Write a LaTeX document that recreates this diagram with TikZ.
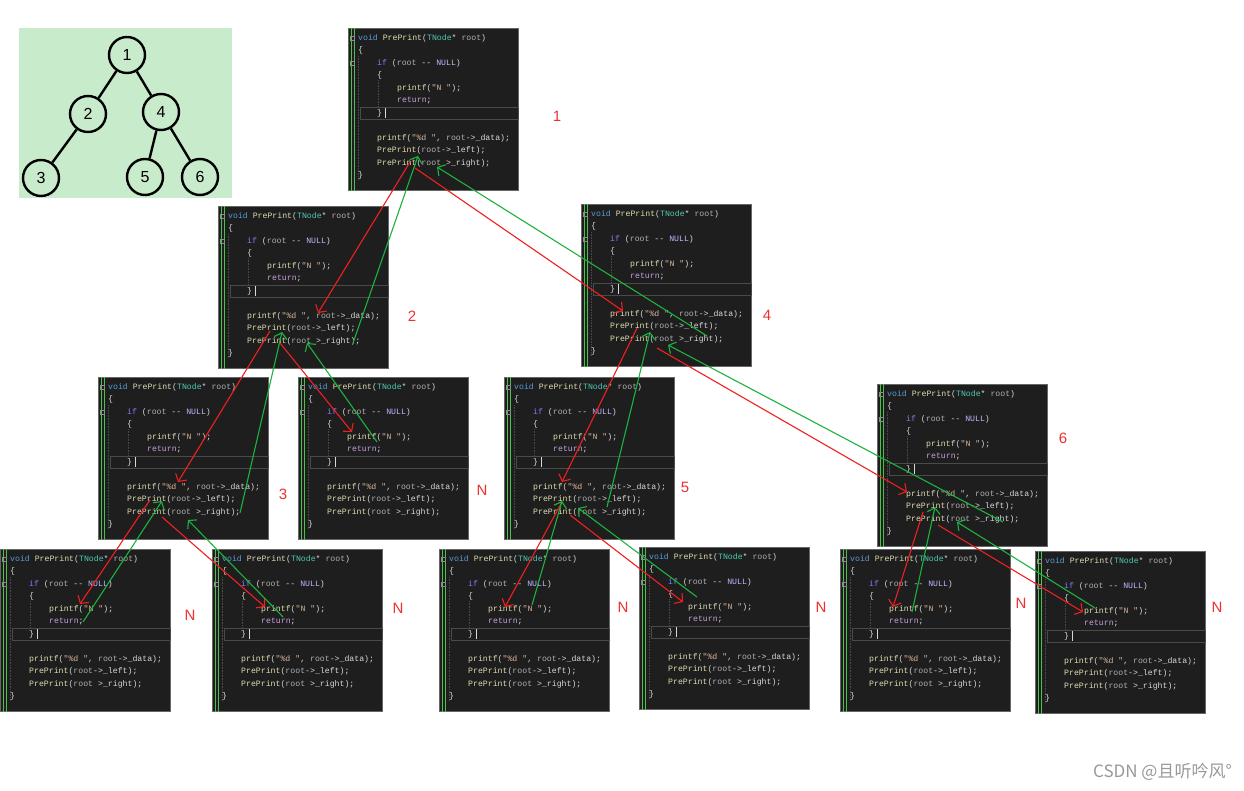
\documentclass[tikz,border=0pt]{standalone}
\usepackage{fontspec}
\setmainfont{Liberation Sans}
\newfontfamily\codefont{Liberation Mono}
\newfontfamily\cjkfont{Noto Sans CJK SC}
\usetikzlibrary{arrows.meta,calc}

\definecolor{codebg}{HTML}{1E1E1E}
\definecolor{codefg}{HTML}{D8D8D8}
\definecolor{ckwc}{HTML}{569CD6}
\definecolor{cifc}{HTML}{7C7CF0}
\definecolor{cfnc}{HTML}{E0DDB0}
\definecolor{ctyc}{HTML}{4EC9B0}
\definecolor{cvarc}{HTML}{B0B0B0}
\definecolor{cnullc}{HTML}{B8B8FF}
\definecolor{cretc}{HTML}{C8A0DF}
\definecolor{cstrc}{HTML}{D6B49A}
\definecolor{barg}{HTML}{4CC24C}
\definecolor{guide}{HTML}{4A4A4A}
\definecolor{treebg}{HTML}{C8ECCB}
\definecolor{arrred}{HTML}{F02020}
\definecolor{arrgreen}{HTML}{1DB33F}
\definecolor{lblred}{HTML}{F03030}

\newcommand\ckw[1]{\textcolor{ckwc}{#1}}
\newcommand\cif[1]{\textcolor{cifc}{#1}}
\newcommand\cfn[1]{\textcolor{cfnc}{#1}}
\newcommand\cty[1]{\textcolor{ctyc}{#1}}
\newcommand\cvar[1]{\textcolor{cvarc}{#1}}
\newcommand\cnull[1]{\textcolor{cnullc}{#1}}
\newcommand\cret[1]{\textcolor{cretc}{#1}}
\newcommand\cstr[1]{\textcolor{cstrc}{#1}}

\tikzset{
  codeframe/.style={rectangle, draw=black!60, line width=0.6pt, fill=codebg,
    minimum width=170pt, minimum height=162pt, anchor=north west, inner sep=0pt},
  codeline/.style={anchor=west, inner sep=0pt, text=codefg,
    font=\codefont\fontsize{8.2}{9}\selectfont},
  greenbar/.style={draw=barg, line width=1.3pt},
  guideline/.style={draw=guide, line width=0.6pt, densely dotted},
  hlbox/.style={draw=guide, line width=0.7pt},
  foldmark/.style={draw=black!45, line width=0.5pt},
  lbl/.style={text=lblred, font=\fontsize{15}{18}\selectfont, inner sep=0pt},
  treenode/.style={circle, draw=black, line width=2.4pt, minimum size=36pt,
    inner sep=0pt, font=\fontsize{16}{19}\selectfont},
  treeedge/.style={draw=black, line width=2.4pt},
  rarr/.style={draw=arrred, line width=1.1pt, -{Straight Barb[length=5.5pt,width=13pt]}},
  garr/.style={draw=arrgreen, line width=1.1pt, -{Straight Barb[length=5.5pt,width=13pt]}},
}

\newcommand\codebox[3]{%
  \node[codeframe] (#1) at (#2,#3) {};
  \draw[greenbar] ($(#1.north west)+(3.5,0)$) -- ($(#1.south west)+(3.5,0)$);
  \draw[greenbar] ($(#1.north west)+(6.5,0)$) -- ($(#1.south west)+(6.5,0)$);
  \draw[guideline] ($(#1.north west)+(10,28)$) -- ($(#1.north west)+(10,152)$);
  \draw[guideline] ($(#1.north west)+(30,52)$) -- ($(#1.north west)+(30,79)$);
  \draw[hlbox] ($(#1.north west)+(12,79)$) rectangle ($(#1.north east)+(0,91)$);
  \draw[foldmark] ($(#1.north west)+(2.5,8)$) rectangle ($(#1.north west)+(6.5,12)$);
  \draw[foldmark] ($(#1.north west)+(2.5,33)$) rectangle ($(#1.north west)+(6.5,37)$);
  \draw[draw=codefg, line width=0.6pt] ($(#1.north west)+(37,80)$) -- ($(#1.north west)+(37,90)$);
  \node[codeline] (#1-sig) at ($(#1.north west)+(10,10)$) {\ckw{void} \cfn{PrePrint}(\cty{TNode}* \cvar{root})};
  \node[codeline] (#1-ob) at ($(#1.north west)+(10,22)$) {\{};
  \node[codeline] (#1-if) at ($(#1.north west)+(29,35)$) {\cif{if} (\cvar{root} -{}- \cnull{NULL})};
  \node[codeline] (#1-ib) at ($(#1.north west)+(29,47)$) {\{};
  \node[codeline] (#1-pn) at ($(#1.north west)+(49,60)$) {\cfn{printf}(\cstr{"N "});};
  \node[codeline] (#1-rt) at ($(#1.north west)+(49,72)$) {\cret{return};};
  \node[codeline] (#1-ic) at ($(#1.north west)+(29,85)$) {\}};
  \node[codeline] (#1-pd) at ($(#1.north west)+(29,110)$) {\cfn{printf}(\cstr{"\%d "}, \cvar{root}->\_data);};
  \node[codeline] (#1-pl) at ($(#1.north west)+(29,122)$) {\cfn{PrePrint}(\cvar{root}->\_left);};
  \node[codeline] (#1-pr) at ($(#1.north west)+(29,135)$) {\cfn{PrePrint}(\cvar{root} >\_right);};
  \node[codeline] (#1-cb) at ($(#1.north west)+(10,147)$) {\}};
}

\begin{document}
\begin{tikzpicture}[x=1pt, y=-1pt]
\useasboundingbox (0,0) rectangle (1244,791);
\fill[white] (0,0) rectangle (1244,791);

% binary tree inset
\node[fill=treebg, minimum width=213pt, minimum height=170pt, anchor=north west, inner sep=0pt] (treebg) at (19,28) {};
\node[treenode] (t1) at (127,55) {1};
\node[treenode] (t2) at (88,114) {2};
\node[treenode] (t4) at (161,112) {4};
\node[treenode] (t3) at (41,178) {3};
\node[treenode] (t5) at (145,177) {5};
\node[treenode] (t6) at (200,177) {6};
\draw[treeedge] (t1) -- (t2);
\draw[treeedge] (t1) -- (t4);
\draw[treeedge] (t2) -- (t3);
\draw[treeedge] (t4) -- (t5);
\draw[treeedge] (t4) -- (t6);

% code boxes
\codebox{A}{348}{28}
\codebox{B}{218}{206}
\codebox{C}{581}{204}
\codebox{D}{98}{377}
\codebox{E}{298}{377}
\codebox{F}{504}{377}
\codebox{G}{877}{384}
\codebox{H}{0}{549}
\codebox{I}{212}{549}
\codebox{J}{439}{549}
\codebox{K}{639}{547}
\codebox{L}{840}{549}
\codebox{M}{1035}{551}

% labels
\node[lbl] (l1) at (557,116) {1};
\node[lbl] (l2) at (412,316) {2};
\node[lbl] (l4) at (767,315) {4};
\node[lbl] (l3) at (283,494) {3};
\node[lbl] (lE) at (482,490) {N};
\node[lbl] (l5) at (685,487) {5};
\node[lbl] (l6) at (1063,438) {6};
\node[lbl] (lH) at (190,615) {N};
\node[lbl] (lI) at (398,608) {N};
\node[lbl] (lJ) at (623,607) {N};
\node[lbl] (lK) at (821,607) {N};
\node[lbl] (lL) at (1021,603) {N};
\node[lbl] (lM) at (1217,607) {N};

% call (red) and return (green) arrows
\draw[rarr] ($(A.north west)+(62,134)$) -- ($(B.north west)+(100,107)$);
\draw[garr] ($(B.north west)+(135,137)$) -- ($(A.north west)+(70,128)$);
\draw[rarr] ($(A.north west)+(67,140)$) -- ($(C.north west)+(42,107)$);
\draw[garr] ($(C.north west)+(126,132)$) -- ($(A.north west)+(89,139)$);

\draw[rarr] ($(B.north west)+(52,125)$) -- ($(D.north west)+(80,105)$);
\draw[garr] ($(D.north west)+(142,136)$) -- ($(B.north west)+(64,126)$);
\draw[rarr] ($(B.north west)+(62,137)$) -- ($(E.north west)+(54,55)$);
\draw[garr] ($(E.north west)+(79,65)$) -- ($(B.north west)+(89,137)$);

\draw[rarr] ($(D.north west)+(52,123)$) -- ($(H.north west)+(80,55)$);
\draw[garr] ($(H.north west)+(83,73)$) -- ($(D.north west)+(64,124)$);
\draw[rarr] ($(D.north west)+(64,140)$) -- ($(I.north west)+(53,58)$);
\draw[garr] ($(I.north west)+(71,68)$) -- ($(D.north west)+(90,143)$);

\draw[rarr] ($(C.north west)+(56,124)$) -- ($(F.north west)+(58,105)$);
\draw[garr] ($(F.north west)+(103,130)$) -- ($(C.north west)+(69,128)$);
\draw[rarr] ($(C.north west)+(76,144)$) -- ($(G.north west)+(30,108)$);
\draw[garr] ($(G.north west)+(126,138)$) -- ($(C.north west)+(87,141)$);

\draw[rarr] ($(F.north west)+(58,125)$) -- ($(J.north west)+(66,58)$);
\draw[garr] ($(J.north west)+(93,56)$) -- ($(F.north west)+(58,124)$);
\draw[rarr] ($(F.north west)+(66,138)$) -- ($(K.north west)+(44,55)$);
\draw[garr] ($(K.north west)+(58,50)$) -- ($(F.north west)+(74,131)$);

\draw[rarr] ($(G.north west)+(46,128)$) -- ($(L.north west)+(53,58)$);
\draw[garr] ($(L.north west)+(72,63)$) -- ($(G.north west)+(58,123)$);
\draw[rarr] ($(G.north west)+(61,141)$) -- ($(M.north west)+(48,61)$);
\draw[garr] ($(M.north west)+(60,57)$) -- ($(G.north west)+(80,138)$);

% watermark
\node[anchor=east, text=black!40, font=\cjkfont\fontsize{17}{20}\selectfont, inner sep=0pt] (wm) at (1232,772) {CSDN @且听吟风°};
\end{tikzpicture}
\end{document}
